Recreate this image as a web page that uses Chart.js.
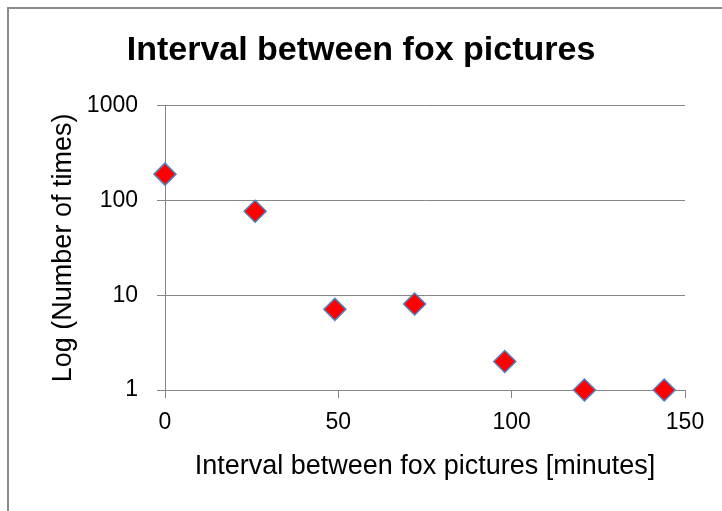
<!DOCTYPE html>
<html>
<head>
<meta charset="utf-8">
<script src="https://cdn.jsdelivr.net/npm/chart.js@4/dist/chart.umd.min.js"></script>
<style>
  html, body { margin: 0; padding: 0; background: #fff; overflow: hidden; }
  #wrap { position: relative; width: 722px; height: 511px; }
  #frame { position: absolute; left: 7px; top: 7px; width: 800px; height: 600px;
           border-left: 2px solid #8c8c8c; border-top: 2px solid #8c8c8c; pointer-events: none; }
  canvas { position: absolute; left: 0; top: 0; }
</style>
</head>
<body>
<div id="wrap">
  <canvas id="chart" width="722" height="511"></canvas>
  <div id="frame"></div>
</div>
<script>
// interval between pictures [minutes] and how often it happened
const xValues = [0, 26, 49, 72, 98, 121, 144];
const yValues = [190, 77, 7.1, 8.1, 2, 1, 1];
const yTicks = [1, 10, 100, 1000];

const font = "'Liberation Sans', Arial, sans-serif";
const gridGray = '#868686';

const points = xValues.map((x, i) => ({ x: x, y: yValues[i] }));

new Chart(document.getElementById('chart'), {
    type: 'scatter',
    data: {
        datasets: [{
            data: points,
            pointStyle: 'rectRot',
            pointRadius: 11,
            pointHoverRadius: 11,
            backgroundColor: '#ff0000',
            borderColor: '#4f81bd',
            borderWidth: 1.5,
            clip: false
        }]
    },
    options: {
        responsive: false,
        animation: false,
        layout: { padding: 0 },
        plugins: {
            legend: { display: false },
            tooltip: { enabled: false },
            title: {
                display: true,
                text: 'Interval between fox pictures',
                color: '#000',
                font: { family: font, size: 34, weight: 'bold', lineHeight: 1.2 },
                padding: { top: 30, bottom: 35 }
            }
        },
        scales: {
            x: {
                type: 'linear',
                min: 0,
                max: 150,
                ticks: { stepSize: 50, color: '#000', padding: 11, font: { family: font, size: 23 } },
                grid: { drawOnChartArea: false, drawTicks: true, tickLength: 8, color: gridGray },
                border: { display: true, color: gridGray },
                title: {
                    display: true,
                    text: 'Interval between fox pictures [minutes]',
                    color: '#000',
                    font: { family: font, size: 27, lineHeight: 1.2 },
                    padding: { top: 0, bottom: 28 }
                },
                afterFit: (scale) => {
                    scale.height = 121;
                    scale.paddingRight = 37;
                }
            },
            y: {
                type: 'logarithmic',
                min: 1,
                max: 1000,
                afterBuildTicks: (scale) => {
                    scale.ticks = yTicks.map(v => ({ value: v }));
                },
                ticks: {
                    color: '#000',
                    padding: 19,
                    font: { family: font, size: 23 },
                    callback: (value) => String(value)
                },
                grid: { color: gridGray, tickLength: 8 },
                border: { display: true, color: gridGray },
                title: {
                    display: true,
                    text: 'Log (Number of times)',
                    color: '#000',
                    font: { family: font, size: 27, lineHeight: 1.2 },
                    padding: { top: 47, bottom: 0 }
                },
                afterFit: (scale) => {
                    scale.width = 165;
                }
            }
        }
    }
});
</script>
</body>
</html>
